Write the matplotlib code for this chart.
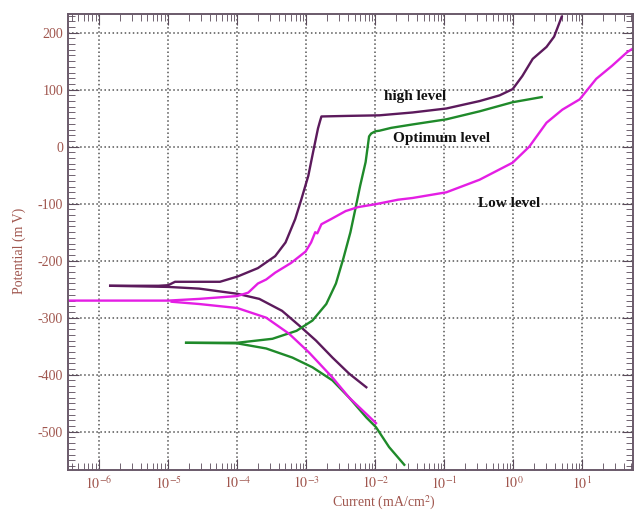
import numpy as np
import matplotlib
matplotlib.use("Agg")
import matplotlib.pyplot as plt
from matplotlib.ticker import FixedLocator, LogLocator, MultipleLocator, FuncFormatter

plt.rcParams['font.family'] = ['Liberation Serif', 'DejaVu Serif']
plt.rcParams['mathtext.fontset'] = 'stix'
plt.rcParams['axes.unicode_minus'] = False

# log10(current, mA/cm2) and potential (mV)
high_anodic_lx = [-5.84, -5.14, -5.0, -4.90, -4.25, -4.0, -3.70, -3.45, -3.30, -3.16, -3.07,
                  -2.97, -2.90, -2.83, -2.80, -2.78, -2.40, -1.94, -1.46, -0.97, -0.49,
                  -0.20, -0.01, 0.13, 0.28, 0.48, 0.59, 0.70]
high_anodic_mv = [-244, -244, -243, -237, -237, -228, -213, -192, -168, -127, -92,
                  -51, -9, 32, 45, 53, 54, 55, 60, 67, 80,
                  90, 101, 124, 154, 175, 193, 228]
high_cathodic_lx = [-5.84, -5.0, -4.55, -4.0, -3.68, -3.35, -3.10, -2.86, -2.62, -2.38, -2.13]
high_cathodic_mv = [-244, -246, -249, -258, -267, -288, -314, -340, -370, -398, -422]

opt_anodic_lx = [-4.74, -4.0, -3.49, -3.14, -2.91, -2.71, -2.57, -2.46, -2.36, -2.29, -2.22,
                 -2.14, -2.10, -2.09, -2.06, -2.0, -1.94, -1.77, -1.46, -0.97, -0.49, -0.01, 0.41]
opt_anodic_mv = [-344, -344, -337, -323, -305, -276, -240, -195, -150, -110, -69,
                 -27, 9, 18, 23, 27, 28, 33, 39, 48, 62, 78, 87]
opt_cathodic_lx = [-4.74, -4.0, -3.58, -3.20, -2.91, -2.62, -2.38, -2.13, -1.99, -1.80, -1.58]
opt_cathodic_mv = [-344, -345, -354, -370, -387, -410, -440, -475, -492, -527, -558]

low_anodic_lx = [-6.45, -5.0, -4.55, -4.0, -3.84, -3.70, -3.58, -3.45, -3.22, -3.01, -2.93,
                 -2.87, -2.84, -2.78, -2.64, -2.43, -2.25, -2.0, -1.67, -1.46, -0.97,
                 -0.49, -0.01, 0.23, 0.48, 0.71, 0.96, 1.20, 1.43, 1.65, 1.73]
low_anodic_mv = [-270, -270, -267, -262, -256, -240, -233, -221, -204, -184, -168,
                 -150, -152, -136, -127, -113, -106, -101, -93, -90, -80,
                 -58, -28, 0, 42, 65, 83, 119, 142, 166, 172]
low_cathodic_lx = [-4.95, -4.55, -4.0, -3.58, -3.25, -2.96, -2.62, -2.38, -1.99]
low_cathodic_mv = [-272, -276, -283, -300, -328, -361, -405, -440, -485]

x_decades = [-6, -5, -4, -3, -2, -1, 0, 1]

c_high = '#5c1a5c'
c_opt = '#1f8a2a'
c_low = '#e41ee4'
brown = '#a0564e'

fig = plt.figure(figsize=(6.36, 5.13), dpi=100)
ax = fig.add_axes([0.107, 0.084, 0.888, 0.889])

def curve(lx, mv, color):
    ax.plot(10 ** np.array(lx), mv, color=color, lw=1.7)

curve(high_anodic_lx, high_anodic_mv, c_high)
curve(high_cathodic_lx, high_cathodic_mv, c_high)
curve(opt_anodic_lx, opt_anodic_mv, c_opt)
curve(opt_cathodic_lx, opt_cathodic_mv, c_opt)
curve(low_anodic_lx, low_anodic_mv, c_low)
curve(low_cathodic_lx, low_cathodic_mv, c_low)

ax.set_xscale('log')
ax.set_xlim(10 ** -6.45, 10 ** 1.73)
ax.set_ylim(-567, 233)

ax.xaxis.set_major_locator(FixedLocator([10.0 ** d for d in x_decades]))
ax.xaxis.set_minor_locator(LogLocator(base=10, subs=np.arange(2, 10), numticks=20))
ax.xaxis.set_major_formatter(FuncFormatter(lambda v, _: r'$10^{%d}$' % round(np.log10(v))))
ax.yaxis.set_major_locator(MultipleLocator(100))
ax.yaxis.set_minor_locator(MultipleLocator(10))

ax.tick_params(which='both', direction='in', top=True, right=True,
               colors='#5a4a5a', labelcolor=brown, labelsize=10)
ax.tick_params(which='major', length=8)
ax.tick_params(which='minor', length=5)
ax.tick_params(axis='x', which='major', pad=4)
for s in ax.spines.values():
    s.set_color('#6a5a6a')
    s.set_linewidth(1.4)

ax.grid(True, which='major', linestyle=':', color='#555555', lw=1.1)

ax.set_ylabel('Potential (m V)', color=brown, fontsize=10)
ax.set_xlabel('Current (mA/cm$^2$)', color=brown, fontsize=10)
ax.xaxis.set_label_coords(0.56, -0.052)
ax.yaxis.set_label_coords(-0.075, 0.48)

lab = dict(fontsize=11, fontweight='bold', color='#111111', va='center')
ax.text(10 ** -1.88, 88, 'high level', **lab)
ax.text(10 ** -1.74, 15, 'Optimum level', **lab)
ax.text(10 ** -0.51, -99, 'Low level', **lab)

fig.savefig('out.png', dpi=100)
